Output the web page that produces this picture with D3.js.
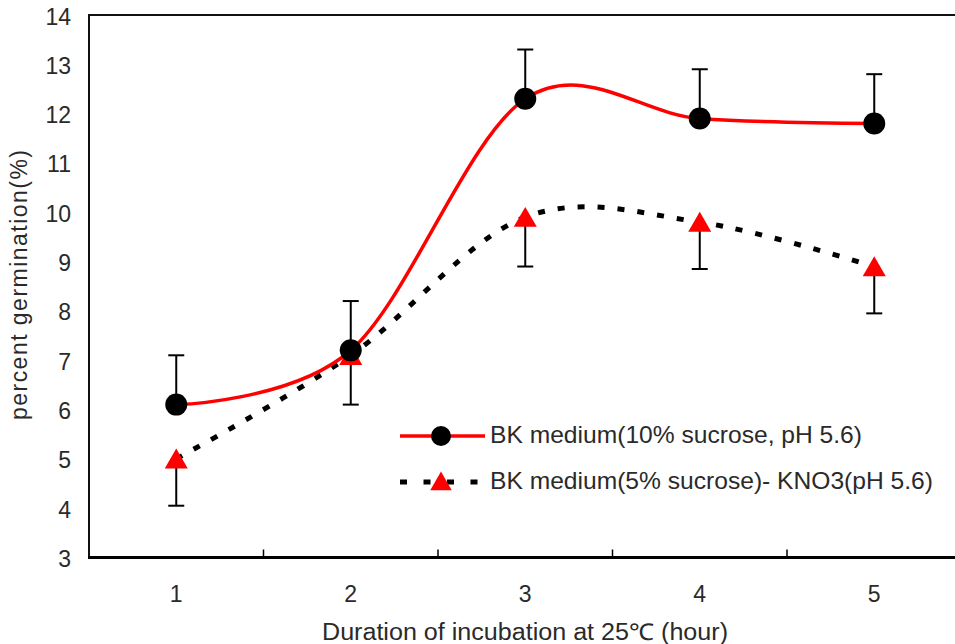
<!DOCTYPE html>
<html><head><meta charset="utf-8">
<script src="https://cdn.jsdelivr.net/npm/d3@7"></script>
<style>body{margin:0;background:#fff}svg{display:block}</style>
</head><body><svg id="c" width="955" height="644"></svg>
<script>
const categories = ["1","2","3","4","5"];
const sucrose10 = [6.1, 7.2, 12.3, 11.9, 11.8];
const sucrose10Err = [1.0, 1.0, 1.0, 1.0, 1.0];
const sucrose5 = [5.0, 7.1, 9.9, 9.8, 8.9];
const sucrose5Err = [0.95, 1.0, 1.0, 0.95, 0.95];
const yTicks = [3,4,5,6,7,8,9,10,11,12,13,14];
const seriesNames = ["BK medium(10% sucrose, pH 5.6)", "BK medium(5% sucrose)- KNO3(pH 5.6)"];
const xTitle = "Duration of incubation at 25\u2103 (hour)";
const yTitle = "percent germination(%)";

const svg = d3.select("#c");
const font = "'Liberation Sans', Arial, sans-serif";
const txt = "#2a2a2a";
const L = 89, R = 961.5, T = 15, B = 557.5;
const x = d3.scaleBand().domain(categories).range([L, R]);
const y = d3.scaleLinear().domain([3, 14]).range([B, T]);
const cx = c => x(c) + x.bandwidth() / 2;

// frame
svg.append("line").attr("x1", L).attr("x2", 955).attr("y1", T).attr("y2", T).attr("stroke", "#111").attr("stroke-width", 2);
svg.append("line").attr("x1", L).attr("x2", L).attr("y1", T - 1).attr("y2", B + 1.5).attr("stroke", "#111").attr("stroke-width", 2);
svg.append("line").attr("x1", L - 1).attr("x2", 955).attr("y1", B).attr("y2", B).attr("stroke", "#000").attr("stroke-width", 3);
// x boundary ticks
const bounds = categories.slice(1).map(c => x(c));
svg.selectAll(".xt").data(bounds).enter().append("line")
  .attr("x1", d => d).attr("x2", d => d).attr("y1", B).attr("y2", B - 8)
  .attr("stroke", "#000").attr("stroke-width", 1.5);

// y labels
svg.selectAll(".yl").data(yTicks).enter().append("text")
  .attr("x", 71).attr("y", d => y(d) + 9.5)
  .attr("text-anchor", "end").attr("font-family", font).attr("font-size", 23).attr("fill", txt)
  .text(d => d);
// x labels
svg.selectAll(".xl").data(categories).enter().append("text")
  .attr("x", d => cx(d)).attr("y", 602)
  .attr("text-anchor", "middle").attr("font-family", font).attr("font-size", 23).attr("fill", txt)
  .text(d => d);
// titles
svg.append("text").attr("x", 322).attr("y", 640)
  .attr("font-family", font).attr("font-size", 23).attr("fill", txt)
  .attr("textLength", 406).attr("lengthAdjust", "spacingAndGlyphs").text(xTitle);
svg.append("text").attr("transform", "translate(27,420) rotate(-90)")
  .attr("font-family", font).attr("font-size", 23).attr("fill", txt)
  .attr("textLength", 270).attr("lengthAdjust", "spacing").text(yTitle);

const line = d3.line().x((d, i) => cx(categories[i])).y(d => y(d)).curve(d3.curveCatmullRom.alpha(0));

// error bars
function errBars(vals, errs, dir) {
  const g = svg.append("g").attr("stroke", "#000").attr("stroke-width", 2);
  vals.forEach((v, i) => {
    const X = cx(categories[i]), e = v + dir * errs[i];
    g.append("line").attr("x1", X).attr("x2", X).attr("y1", y(v)).attr("y2", y(e));
    g.append("line").attr("x1", X - 8).attr("x2", X + 8).attr("y1", y(e)).attr("y2", y(e));
  });
}
errBars(sucrose10, sucrose10Err, 1);
errBars(sucrose5, sucrose5Err, -1);

svg.append("path").datum(sucrose5).attr("d", line).attr("fill", "none").attr("stroke", "#000")
  .attr("stroke-width", 5).attr("stroke-dasharray", "7,13");
svg.append("path").datum(sucrose10).attr("d", line).attr("fill", "none").attr("stroke", "#ff0000")
  .attr("stroke-width", 3.5);

const tri = d3.symbol().type(d3.symbolTriangle).size(230);
svg.selectAll(".tri").data(sucrose5).enter().append("path")
  .attr("d", tri).attr("transform", (d, i) => `translate(${cx(categories[i])},${y(d) + 3})`).attr("fill", "#ff0000");
svg.selectAll(".cir").data(sucrose10).enter().append("circle")
  .attr("cx", (d, i) => cx(categories[i])).attr("cy", d => y(d)).attr("r", 11).attr("fill", "#000");

// legend
const lg = svg.append("g");
lg.append("line").attr("x1", 400).attr("x2", 485).attr("y1", 436).attr("y2", 436).attr("stroke", "#ff0000").attr("stroke-width", 3.5);
lg.append("circle").attr("cx", 441).attr("cy", 436).attr("r", 10).attr("fill", "#000");
lg.append("line").attr("x1", 400).attr("x2", 485).attr("y1", 482).attr("y2", 482).attr("stroke", "#000").attr("stroke-width", 5).attr("stroke-dasharray", "7,16.5");
lg.append("path").attr("d", d3.symbol().type(d3.symbolTriangle).size(200)).attr("transform", "translate(441,484)").attr("fill", "#ff0000");
lg.append("text").attr("x", 490).attr("y", 443).attr("font-family", font).attr("font-size", 24)
  .attr("fill", txt).attr("textLength", 372).attr("lengthAdjust", "spacingAndGlyphs").text(seriesNames[0]);
lg.append("text").attr("x", 490).attr("y", 489).attr("font-family", font).attr("font-size", 24)
  .attr("fill", txt).attr("textLength", 443).attr("lengthAdjust", "spacingAndGlyphs").text(seriesNames[1]);
</script></body></html>
